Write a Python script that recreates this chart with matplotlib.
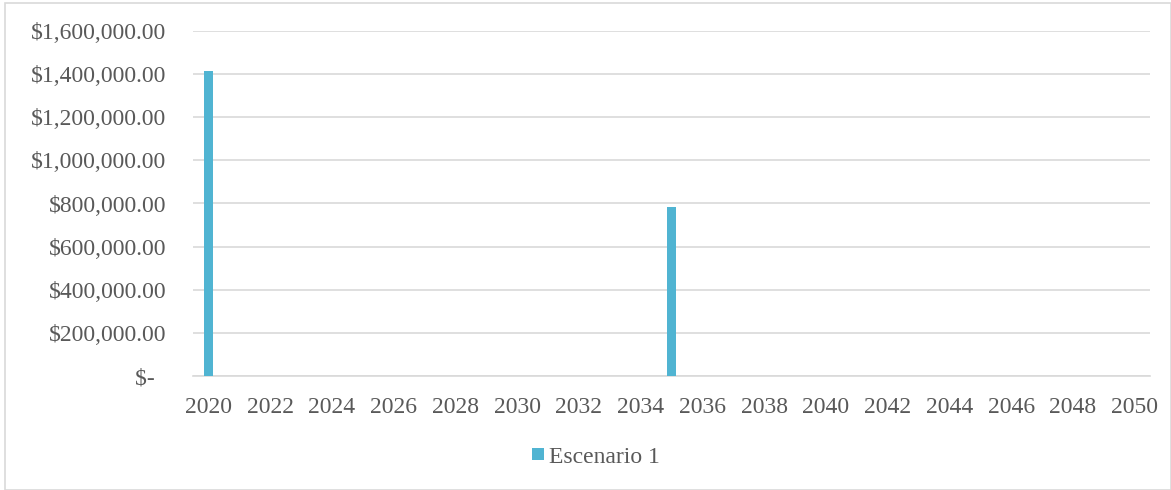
import matplotlib.pyplot as plt
from matplotlib.patches import Rectangle

# Data
years = list(range(2020, 2051))
escenario_1 = [0] * len(years)
escenario_1[years.index(2020)] = 1415000
escenario_1[years.index(2035)] = 785000
y_ticks = [0, 200000, 400000, 600000, 800000, 1000000, 1200000, 1400000, 1600000]
y_labels = ['$-  '] + ['${:,.2f}'.format(v) for v in y_ticks[1:]]

plt.rcParams['font.family'] = ['Liberation Serif', 'DejaVu Serif']
text_color = '#595959'
grid_color = '#d9d9d9'

fig = plt.figure(figsize=(11.71, 4.9), dpi=100)
ax = fig.add_axes([193 / 1171, 1 - 376 / 490, (1150 - 193) / 1171, (376 - 31) / 490])

x = list(range(len(years)))
ax.bar(x, escenario_1, width=0.29, color='#50b4d2', label='Escenario 1', zorder=3)

ax.set_xlim(-0.5, len(years) - 0.5)
ax.set_ylim(0, 1600000)
ax.set_yticks(y_ticks)
ax.set_yticklabels(y_labels)
ax.set_xticks(x[::2])
ax.set_xticklabels([str(y) for y in years[::2]])
ax.tick_params(axis='both', length=0, labelsize=17, colors=text_color)
ax.tick_params(axis='y', pad=19)
ax.tick_params(axis='x', pad=15)

ax.grid(axis='y', color=grid_color, linewidth=1.2, zorder=0)
for side in ['top', 'right', 'left']:
    ax.spines[side].set_visible(False)
ax.spines['bottom'].set_color(grid_color)
ax.spines['bottom'].set_linewidth(1.2)

fig.legend(loc='center', bbox_to_anchor=(596 / 1171, 1 - 457 / 490), frameon=False,
           handlelength=0.5, handleheight=0.4, handletextpad=0.2,
           prop={'size': 17}, labelcolor=text_color)

# outer chart border
fig.patches.append(Rectangle((5 / 1171, 0), 1 - 5 / 1171, 1 - 3 / 490, transform=fig.transFigure,
                             fill=False, edgecolor=grid_color, linewidth=1.2))

fig.savefig('out.png', dpi=100)
